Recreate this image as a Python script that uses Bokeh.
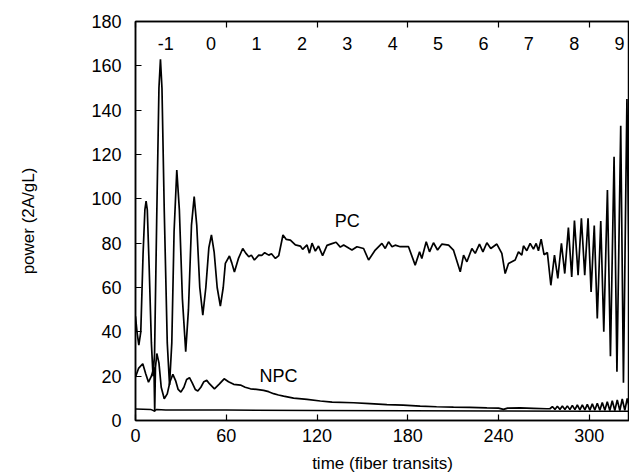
from bokeh.plotting import figure
from bokeh.models import Range1d, FixedTicker, LinearAxis, ColumnDataSource
from bokeh.core.properties import value
from bokeh.embed import file_html
from bokeh.resources import INLINE

# ---- data ----
pc_t = [0, 1, 2.2, 3.5, 5, 6.2, 7.0, 7.8, 9, 10.5, 11.6, 12.6, 14, 15.5, 16.5, 17.5, 19, 21, 22.5, 24,
        25.5, 27.3, 29, 31, 33.2, 35, 37, 38.8, 40.5, 42.5, 44.5, 46.5, 48.5, 50.2, 52, 54, 56.1, 58,
        59.4, 62.1, 63.7, 65.4, 68, 70.9, 72.9, 74.9, 76.6, 78.6, 81.5, 83.5, 85.4, 88.1, 89.9, 92.5,
        94.7, 97.5, 99.7, 102.4, 105.7, 109, 110.5, 113.4, 115, 116.7, 118.9, 121, 123.7, 126.6,
        129.9, 132.6, 135.4, 137.6, 140.9, 143.1, 146.4, 150.8, 154.1, 158.5, 162.9, 165.1, 167.3,
        169.6, 171.7, 175, 180.5, 184.9, 187.8, 189.3, 192.2, 194.4, 197, 199.7, 202.6, 207, 210.2,
        214.7, 216.9, 219.1, 222.4, 224.6, 227.4, 229.7, 232.3, 234.9, 238.9, 242.2, 244.4, 246.6,
        251, 253.2, 255.4, 256.5, 258.7, 260.9, 263.1, 264.9, 266.4, 268.2, 270.1, 272.3, 274.6,
        277, 279.2, 281.6, 283.8, 286.2, 288.4, 290.2, 292.6, 294.8, 297, 299.2, 301.2, 303.3,
        305.3, 307.6, 309.6, 312, 314, 316.4, 318.3, 320.8, 322.6, 324.9, 326.8]
pc_p = [47, 40, 34, 40, 75, 95, 99, 95, 70, 35, 20, 30, 90, 150, 163, 150, 95, 35, 16, 35,
        85, 113, 95, 55, 31, 50, 88, 101, 88, 60, 47.5, 60, 78, 83.7, 76, 60, 51.6, 60,
        70.9, 74.2, 71, 67, 73, 77.6, 75.5, 73.9, 74.6, 72.4, 74.6, 74.5, 75.7, 74.6, 75.2, 73.1,
        74.4, 83.7, 81.7, 81.4, 79.2, 78.7, 77.2, 79.2, 75.5, 80, 76.4, 78.7, 74.4, 79,
        79.8, 80.4, 78.2, 79.2, 77.8, 76.9, 78.4, 77.6, 72.4, 76.9, 79.9, 77.6, 80.6,
        78.4, 79.1, 78.4, 78.4, 70.1, 76.1, 73.1, 80.6, 76.1, 80.2, 76.9, 79.6, 79.1, 76.9,
        67.1, 74.6, 71.6, 77.6, 75.4, 79.6, 76.1, 80.2, 77.6, 79.6, 75.4, 66.3, 70.8,
        72.4, 76.1, 74.6, 78.8, 76.6, 79.9, 77.3, 79.9, 76.6, 81.8, 74.8, 75.8, 61,
        74.6, 64.1, 79.9, 66.3, 87, 64.8, 90.2, 65.6, 91.2, 65.6, 91.2, 58, 88,
        46, 90, 40, 104, 29, 119, 22, 133, 17, 145, 40]

npc_t = [0, 2, 4.8, 6.8, 8.6, 10.5, 12.2, 12.7, 13.2, 14.1, 15.5, 17, 19, 21, 22.8, 24.7, 26.5, 28.2,
         30, 32, 33.8, 35.7, 37.5, 39.5, 41.2, 43.2, 45.2, 47.1, 49, 52.2, 55.5, 58.6, 61.5, 64.9,
         69.4, 72.5, 76, 80, 84.7, 88, 91.3, 94.5, 97.9, 104.5, 113.4, 122.2, 130, 144.2, 155,
         166.2, 177, 188.2, 199, 210.2, 221, 232.3, 240, 243.3, 246, 254.3, 263, 271.9,
         274.0, 275.6, 277.3, 278.9, 280.6, 282.2, 283.9, 285.5, 287.2, 288.8, 290.5, 292.1,
         293.8, 295.4, 297.1, 298.7, 300.4, 302.0, 303.7, 305.3, 307.0, 308.6, 310.3, 311.9,
         313.6, 315.2, 316.9, 318.5, 320.2, 321.8, 323.5, 325.1, 326.8]
npc_p = [19.6, 23.5, 25.6, 21, 17.3, 20, 24, 4, 24, 30.2, 26, 15, 9.8, 12, 17.5, 20.8, 18, 14,
         12.8, 15, 18.5, 19.3, 17, 14, 13.3, 15, 17.5, 18.1, 16.5, 14.3, 16.5, 18.8, 17.5, 16.3,
         16, 15, 14.3, 14, 13.6, 13, 12.1, 11.5, 11, 10.1, 9.5, 8.8, 8.3, 8.0, 7.6,
         7.2, 6.9, 6.5, 6.2, 6.0, 5.9, 5.7, 5.6, 5.0, 5.6, 5.7, 5.5, 5.3,
         5.3, 6.3, 5.0, 6.4, 5.0, 6.5, 5.0, 6.6, 4.9, 6.8, 4.9, 7.0,
         4.8, 7.1, 4.8, 7.3, 4.7, 7.5, 4.7, 7.8, 4.6, 8.1, 4.6, 8.5,
         4.5, 8.9, 4.5, 9.3, 4.5, 9.7, 4.6, 10.0, 4.8]

base_t = [0, 10, 12.5, 14, 20, 60, 120, 180, 240, 300, 326.8]
base_p = [5.2, 5.0, 4.3, 5.0, 4.7, 4.7, 4.5, 4.4, 4.3, 4.2, 4.2]

x_ticks = [0, 60, 120, 180, 240, 300]
y_ticks = [0, 20, 40, 60, 80, 100, 120, 140, 160, 180]

round_labels = ["-1", "0", "1", "2", "3", "4", "5", "6", "7", "8", "9"]
round_t = [20, 50, 80, 110, 140, 170, 200, 230, 260, 290, 320]
round_p = [170] * len(round_labels)

curve_names = ["PC", "NPC"]
curve_name_t = [140, 94.5]
curve_name_p = [90, 20]

FONT = "Liberation Sans"

p = figure(width=629, height=475, x_range=Range1d(0, 326.6), y_range=Range1d(0, 180),
           output_backend="svg", toolbar_location=None,
           min_border_left=135, min_border_right=0, min_border_top=21, min_border_bottom=55)
p.background_fill_color = "white"
p.border_fill_color = "white"
p.outline_line_color = "black"
p.outline_line_width = 1.5
p.xgrid.visible = False
p.ygrid.visible = False

for ax in (p.xaxis[0], p.yaxis[0]):
    ax.major_tick_in = 6
    ax.major_tick_out = 0
    ax.minor_tick_in = 0
    ax.minor_tick_out = 0
    ax.axis_line_color = "black"
    ax.axis_line_width = 1.5
    ax.major_tick_line_width = 1.2
    ax.major_label_text_font = FONT
    ax.major_label_text_font_size = "18px"
    ax.major_label_text_color = "black"
    ax.axis_label_text_font = FONT
    ax.axis_label_text_font_size = "17px"
    ax.axis_label_text_font_style = "normal"
    ax.axis_label_text_color = "black"

p.xaxis[0].ticker = FixedTicker(ticks=x_ticks)
p.yaxis[0].ticker = FixedTicker(ticks=y_ticks)
p.xaxis[0].axis_label = "time (fiber transits)"
p.yaxis[0].axis_label = "power (2A/gL)"
p.xaxis[0].major_label_standoff = 8
p.xaxis[0].axis_label_standoff = 9
p.yaxis[0].major_label_standoff = 14
p.yaxis[0].axis_label_standoff = 50

top = LinearAxis(ticker=FixedTicker(ticks=x_ticks))
top.major_tick_in = 6
top.major_tick_out = 0
top.minor_tick_in = 0
top.minor_tick_out = 0
top.major_label_text_color = None
top.major_label_standoff = 0
top.axis_line_width = 1.5
top.major_tick_line_width = 1.2
p.add_layout(top, "above")

p.line(pc_t, pc_p, line_color="black", line_width=1.7)
p.line(npc_t, npc_p, line_color="black", line_width=1.7)
p.line(base_t, base_p, line_color="black", line_width=1.5)

src_r = ColumnDataSource(dict(x=round_t, y=round_p, t=round_labels))
p.text(x="x", y="y", text="t", source=src_r, text_font=value(FONT), text_font_size="18px",
       text_align="center", text_baseline="middle", text_color="black")

src_c = ColumnDataSource(dict(x=curve_name_t, y=curve_name_p, t=curve_names))
p.text(x="x", y="y", text="t", source=src_c, text_font=value(FONT), text_font_size="18px",
       text_align="center", text_baseline="middle", text_color="black")

open("out.html", "w").write(file_html(p, INLINE))
